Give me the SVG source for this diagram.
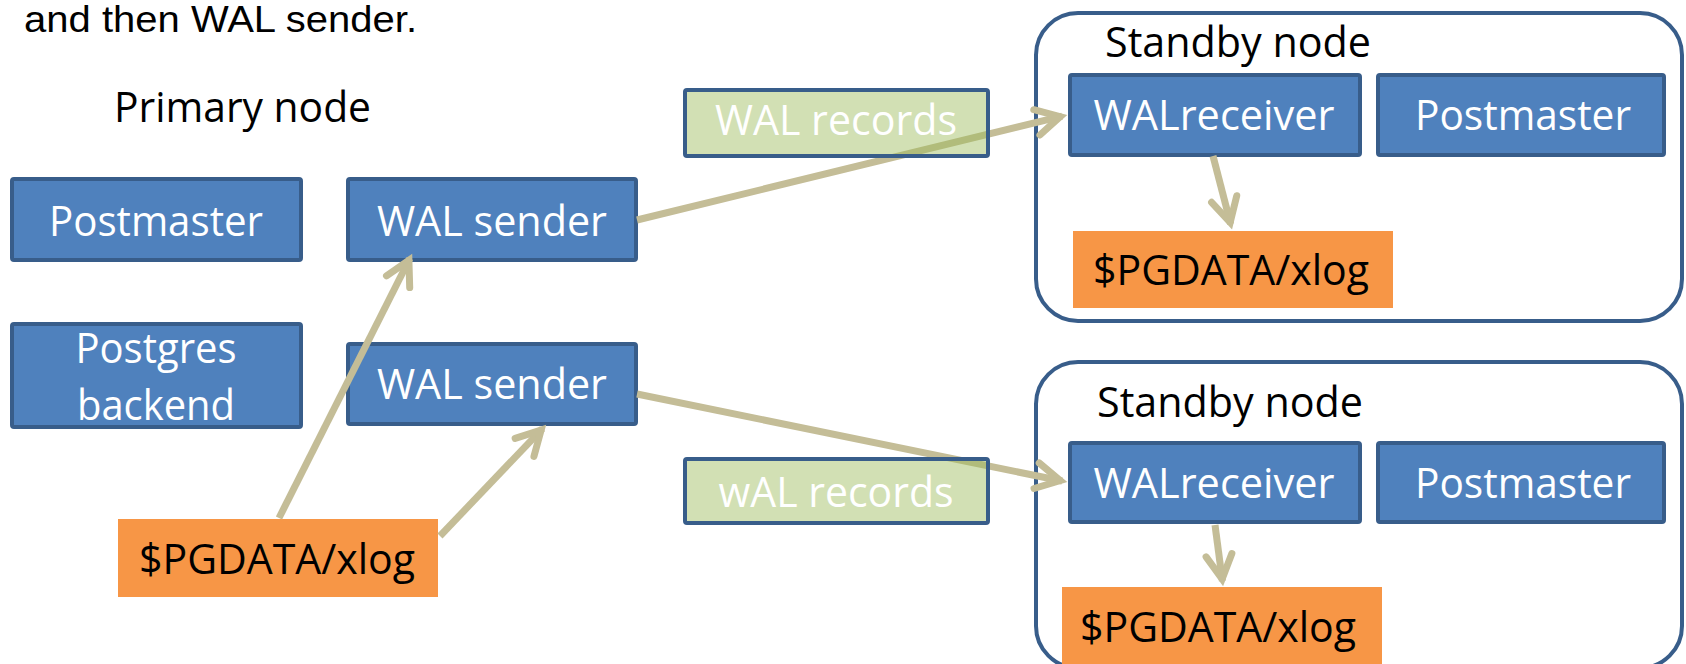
<svg xmlns="http://www.w3.org/2000/svg" width="1686" height="664" viewBox="0 0 1686 664">
  <style>
    .proc { fill: #4F81BD; stroke: #385D8A; stroke-width: 4; }
    .rec { fill: #9BBB59; fill-opacity: 0.45; stroke: #385D8A; stroke-width: 4; }
    .disk { fill: #F79646; }
    .frame { fill: none; stroke: #385D8A; stroke-width: 4; }
    .lbl { font-family: "Open Sans", "Noto Sans", sans-serif; font-size: 42px; text-anchor: middle; }
    .w { fill: #FFFFFF; }
    .k { fill: #000000; }
    .flow { stroke: #C4BD97; stroke-width: 7; fill: none; marker-end: url(#chev); }
  </style>
  <defs>
    <marker id="chev" markerUnits="userSpaceOnUse" viewBox="-40 -20 50 40" markerWidth="50" markerHeight="40" refX="0" refY="0" orient="auto" overflow="visible">
      <path d="M-26,-13 L-2,0 L-26,13" fill="none" stroke="#C4BD97" stroke-width="7" stroke-linejoin="miter" stroke-linecap="round"/>
    </marker>
  </defs>

  <rect width="1686" height="664" fill="#FFFFFF"/>

  <text x="24" y="32" font-family="Liberation Sans, Arial, sans-serif" font-size="37" fill="#000" textLength="393" lengthAdjust="spacingAndGlyphs">and then WAL sender.</text>

  <!-- primary side -->
  <text x="114" y="122" font-family="Open Sans, Noto Sans, sans-serif" font-size="42" fill="#000" textLength="257" lengthAdjust="spacingAndGlyphs">Primary node</text>

  <g id="standby1-frame">
    <rect class="frame" x="1036" y="13" width="646" height="308" rx="42"/>
    <text class="lbl k" x="1238" y="57" textLength="266" lengthAdjust="spacingAndGlyphs">Standby node</text>
  </g>
  <g id="standby2-frame">
    <rect class="frame" x="1036" y="362" width="646" height="306" rx="42"/>
    <text class="lbl k" x="1230" y="417" textLength="266" lengthAdjust="spacingAndGlyphs">Standby node</text>
  </g>

  <g id="primary-postmaster">
    <rect class="proc" x="12" y="179" width="289" height="81" rx="2"/>
    <text class="lbl w" x="156" y="236" textLength="214" lengthAdjust="spacingAndGlyphs">Postmaster</text>
  </g>
  <g id="wal-sender-1">
    <rect class="proc" x="348" y="179" width="288" height="81" rx="2"/>
    <text class="lbl w" x="492" y="236" textLength="230" lengthAdjust="spacingAndGlyphs">WAL sender</text>
  </g>
  <g id="postgres-backend">
    <rect class="proc" x="12" y="324" width="289" height="103" rx="2"/>
    <text class="lbl w" x="156" y="363" textLength="161" lengthAdjust="spacingAndGlyphs">Postgres</text>
    <text class="lbl w" x="156" y="420" textLength="158" lengthAdjust="spacingAndGlyphs">backend</text>
  </g>
  <g id="wal-sender-2">
    <rect class="proc" x="348" y="344" width="288" height="80" rx="2"/>
    <text class="lbl w" x="492" y="399" textLength="230" lengthAdjust="spacingAndGlyphs">WAL sender</text>
  </g>
  <g id="primary-xlog">
    <rect class="disk" x="118" y="519" width="320" height="78"/>
    <text class="lbl k" x="277" y="574" textLength="276" lengthAdjust="spacingAndGlyphs">$PGDATA/xlog</text>
  </g>

  <g id="walreceiver-1">
    <rect class="proc" x="1070" y="75" width="290" height="80" rx="2"/>
    <text class="lbl w" x="1214" y="130" textLength="241" lengthAdjust="spacingAndGlyphs">WALreceiver</text>
  </g>
  <g id="standby1-postmaster">
    <rect class="proc" x="1378" y="75" width="286" height="80" rx="2"/>
    <text class="lbl w" x="1523" y="130" textLength="216" lengthAdjust="spacingAndGlyphs">Postmaster</text>
  </g>
  <g id="standby1-xlog">
    <rect class="disk" x="1073" y="231" width="320" height="77"/>
    <text class="lbl k" x="1231" y="285" textLength="276" lengthAdjust="spacingAndGlyphs">$PGDATA/xlog</text>
  </g>

  <g id="walreceiver-2">
    <rect class="proc" x="1070" y="443" width="290" height="79" rx="2"/>
    <text class="lbl w" x="1214" y="498" textLength="241" lengthAdjust="spacingAndGlyphs">WALreceiver</text>
  </g>
  <g id="standby2-postmaster">
    <rect class="proc" x="1378" y="443" width="286" height="79" rx="2"/>
    <text class="lbl w" x="1523" y="498" textLength="216" lengthAdjust="spacingAndGlyphs">Postmaster</text>
  </g>
  <g id="standby2-xlog">
    <rect class="disk" x="1062" y="587" width="320" height="90"/>
    <text class="lbl k" x="1218" y="642" textLength="276" lengthAdjust="spacingAndGlyphs">$PGDATA/xlog</text>
  </g>

  <!-- WAL streams and local writes -->
  <g id="connectors">
    <line class="flow" x1="637" y1="220" x2="1062.1" y2="116.2"/>
    <line class="flow" x1="637" y1="394" x2="1062.1" y2="481"/>
    <line class="flow" x1="279" y1="518" x2="409.8" y2="258.5"/>
    <line class="flow" x1="440" y1="536" x2="542.5" y2="428.6"/>
    <line class="flow" x1="1213" y1="156" x2="1230.7" y2="224.2"/>
    <line class="flow" x1="1215" y1="525" x2="1222.4" y2="581"/>
  </g>

  <!-- translucent record labels sit over the streams -->
  <g id="wal-records-1">
    <rect class="rec" x="685" y="90" width="303" height="66" rx="2"/>
    <text class="lbl w" x="836" y="135" textLength="242" lengthAdjust="spacingAndGlyphs">WAL records</text>
  </g>
  <g id="wal-records-2">
    <rect class="rec" x="685" y="459" width="303" height="64" rx="2"/>
    <text class="lbl w" x="836" y="507" textLength="235" lengthAdjust="spacingAndGlyphs">wAL records</text>
  </g>
</svg>
